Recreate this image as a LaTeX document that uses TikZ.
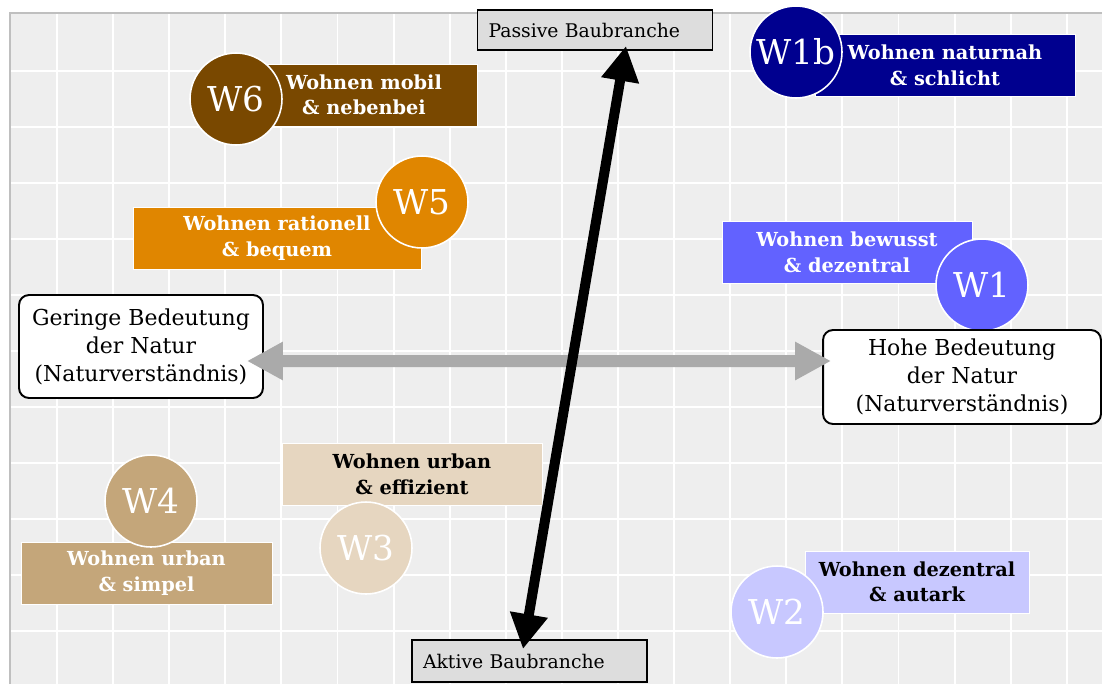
\documentclass[tikz,border=0pt]{standalone}
\usepackage{fontspec}
\setmainfont{DejaVu Serif}
\usetikzlibrary{arrows.meta}
\definecolor{bggray}{RGB}{238,238,238}
\definecolor{basegray}{RGB}{221,221,221}
\definecolor{natgray}{RGB}{170,170,170}
\definecolor{wsixcol}{RGB}{121,72,0}
\definecolor{wfivecol}{RGB}{224,134,0}
\definecolor{wonebcol}{RGB}{0,0,143}
\definecolor{wonecol}{RGB}{98,98,255}
\definecolor{wtwocol}{RGB}{200,200,255}
\definecolor{wfourcol}{RGB}{196,166,122}
\definecolor{wthreecol}{RGB}{230,214,192}
\tikzset{
	baubox/.style={draw=black, line width=1.1pt, fill=basegray, minimum height=0.8cm, inner xsep=0.22cm, text width=4.26cm, align=left, font=\fontsize{10.7}{13}\selectfont},
	naturbox/.style={draw=black, line width=1.1pt, fill=white, rounded corners=0.2cm, align=center, font=\fontsize{12.5}{16}\selectfont},
	typbox/.style={draw=white, line width=0.4pt, minimum height=1.24cm, inner sep=0pt, align=center, font=\bfseries\fontsize{11}{14.5}\selectfont},
	typdot/.style={circle, draw=white, line width=0.9pt, minimum size=1.84cm, inner sep=0pt, text=white, font=\fontsize{19.5}{22}\selectfont},
}

\begin{document}
\begin{tikzpicture}[x=0.02cm, y=-0.02cm]
		%%%%% START %%%%%
		\useasboundingbox (0, 0) rectangle (1102, 684);
		\fill[bggray] (10, 13) rectangle (1102, 684);
		\foreach \i in {0,...,18}
			\draw[white, line width=1.1pt] ({57+56.1*\i}, 13) -- ({57+56.1*\i}, 684);
		\foreach \j in {0,...,10}
			\draw[white, line width=1.1pt] (10, {71+56*\j}) -- (1102, {71+56*\j});
		\draw[black!25, line width=0.8pt] (10, 684) -- (10, 13) -- (1102, 13);
		
		\node[typbox, fill=wsixcol, text=white, minimum width=4.52cm] (w6box) at (364, 95) {Wohnen mobil\\\& nebenbei};
		\node[typdot, fill=wsixcol] (w6) at (236, 99) {W6};
		
		\node[typbox, fill=wfivecol, text=white, minimum width=5.76cm] (w5box) at (277, 238) {Wohnen rationell\\\& bequem};
		\node[typdot, fill=wfivecol] (w5) at (422, 202) {W5};
		
		\node[typbox, fill=wonebcol, text=white, minimum width=5.2cm] (w1bbox) at (945, 65.5) {Wohnen naturnah\\\& schlicht};
		\node[typdot, fill=wonebcol] (w1b) at (796, 52) {W1b};
		
		\node[typbox, fill=wonecol, text=white, minimum width=5cm] (w1box) at (847, 252.5) {Wohnen bewusst\\\& dezentral};
		\node[typdot, fill=wonecol] (w1) at (982, 285) {W1};
		
		\node[typbox, fill=wtwocol, text=black, minimum width=4.48cm] (w2box) at (917, 582) {Wohnen dezentral\\\& autark};
		\node[typdot, fill=wtwocol] (w2) at (777, 612) {W2};
		
		\node[typbox, fill=wthreecol, text=black, minimum width=5.2cm] (w3box) at (412, 474.5) {Wohnen urban\\\& effizient};
		\node[typdot, fill=wthreecol] (w3) at (366, 548) {W3};
		
		\node[typbox, fill=wfourcol, text=white, minimum width=5.02cm] (w4box) at (146.5, 573) {Wohnen urban\\\& simpel};
		\node[typdot, fill=wfourcol] (w4) at (151, 501) {W4};
		
		\node[naturbox, minimum width=4.88cm, minimum height=2.06cm] (gering) at (141, 346.5) {Geringe Bedeutung\\der Natur\\(Naturverständnis)};
		\node[naturbox, minimum width=5.56cm, minimum height=1.88cm] (hoch) at (962, 377) {Hohe Bedeutung\\der Natur\\(Naturverständnis)};
		\draw[natgray, line width=0.24cm, {Triangle[length=0.72cm, width=0.72cm]}-{Triangle[length=0.72cm, width=0.72cm]}]
			([xshift=-0.34cm, yshift=-0.29cm]gering.east) -- ([xshift=0.18cm, yshift=0.32cm]hoch.west);
		
		\node[baubox] (passiv) at (595, 30) {Passive Baubranche};
		\node[baubox, minimum height=0.84cm] (aktiv) at (529.5, 661) {Aktive Baubranche};
		\draw[black, line width=0.2cm, {Triangle[length=0.7cm, width=0.72cm]}-{Triangle[length=0.7cm, width=0.72cm]}]
			([xshift=-0.13cm, yshift=-0.2cm]aktiv.north) -- ([xshift=0.62cm, yshift=0.1cm]passiv.south);
		%%%%% END %%%%%
	\end{tikzpicture}
\end{document}
